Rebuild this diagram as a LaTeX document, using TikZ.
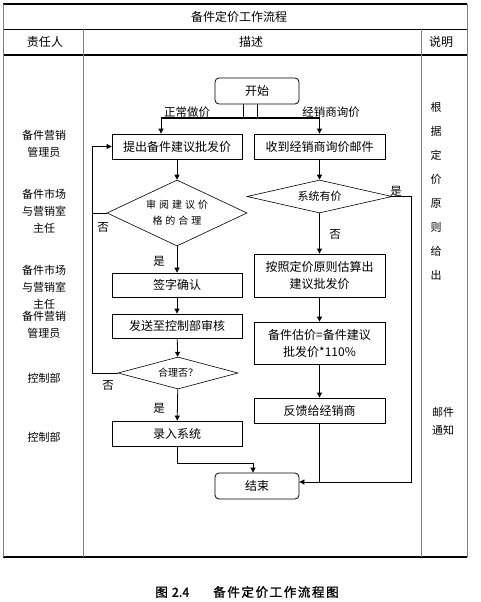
\documentclass[tikz,border=0pt]{standalone}
\usepackage{fontspec}
\setmainfont{Noto Sans CJK SC}
\newfontfamily\capfont[FakeBold=1.5]{Noto Sans CJK SC}
\usepackage{tikz}
\usetikzlibrary{arrows.meta,positioning,shapes.geometric}
\definecolor{framegray}{HTML}{808080}

\begin{document}
\begin{tikzpicture}[x=1pt, y=-1pt,
  stepbox/.style={draw, line width=0.8pt, minimum width=130pt, minimum height=25pt,
                  align=center, inner sep=2pt, font=\fontsize{12}{17}\selectfont},
  termbox/.style={draw, rounded corners=4pt, line width=0.8pt, minimum width=84pt,
                  minimum height=26pt, font=\fontsize{12}{14}\selectfont},
  check/.style={draw, diamond, line width=0.6pt, inner sep=0pt, align=center},
  arr/.style={-{Triangle[length=5pt,width=5pt]}, line width=0.8pt},
  conn/.style={line width=0.8pt},
  lbl/.style={inner sep=0pt, font=\fontsize{11.5}{13}\selectfont},
  role/.style={align=center, inner sep=0pt, font=\fontsize{11}{17}\selectfont},
  rule/.style={line width=1.2pt},
  col/.style={draw=framegray, line width=0.8pt}
]
\useasboundingbox (0,0) rectangle (481,602);

% table frame
\draw[rule] (3,4) -- (467,4);
\draw[line width=0.6pt] (3,29) -- (467,29);
\draw[rule] (3,55) -- (467,55);
\draw[rule] (3,557) -- (467,557);
\draw[col] (3,4) -- (3,557);
\draw[col] (467,4) -- (467,557);
\draw[col] (83,29) -- (83,557);
\draw[col] (421,29) -- (421,557);

\node[font=\fontsize{12}{14}\selectfont] (title) at (239,17) {备件定价工作流程};
\node[font=\fontsize{12}{14}\selectfont] (hrole) at (45,42) {责任人};
\node[font=\fontsize{12}{14}\selectfont] (hdesc) at (251,42) {描述};
\node[font=\fontsize{12}{14}\selectfont] (hnote) at (441,42) {说明};

% responsible persons
\node[role] (r1) at (44,144) {备件营销\\管理员};
\node[role] (r2) at (44,211) {备件市场\\与营销室\\主任};
\node[role] (r3) at (44,287) {备件市场\\与营销室\\主任};
\node[role] (r4) at (44,324.5) {备件营销\\管理员};
\node[role] (r5) at (44,378) {控制部};
\node[role] (r6) at (44,437) {控制部};

% notes
\node[role, font=\fontsize{11}{24}\selectfont] (n1) at (436,191.5) {根\\据\\定\\价\\原\\则\\给\\出};
\node[role, font=\fontsize{11}{18}\selectfont] (n2) at (443,421) {邮件\\通知};

% flow nodes
\node[termbox] (start) at (257,91) {开始};
\node[stepbox] (propose) at (177,146.5) {提出备件建议批发价};
\node[stepbox, minimum width=131pt] (inquiry) at (319.5,146.5) {收到经销商询价邮件};
\node[check, aspect=2.1, minimum width=140pt, minimum height=66pt,
      font=\fontsize{10}{16}\selectfont] (review) at (177,213)
      {审\hspace{3pt}阅\hspace{3pt}建\hspace{3pt}议\hspace{3pt}价\\格\hspace{3pt}的\hspace{3pt}合\hspace{3pt}理};
\node[stepbox, minimum height=24pt] (sign) at (177,285) {签字确认};
\node[stepbox, minimum height=24pt] (send) at (177,326) {发送至控制部审核};
\node[check, aspect=3.75, minimum width=120pt, minimum height=32pt,
      font=\fontsize{10}{12}\selectfont] (ok) at (178,373) {合理否？};
\node[stepbox] (enter) at (177,433.5) {录入系统};
\node[termbox] (finish) at (257,486) {结束};

\node[check, aspect=4.4, minimum width=145pt, minimum height=33pt,
      font=\fontsize{11}{13}\selectfont] (hasprice) at (319.5,196.5) {系统有价};
\node[stepbox, minimum width=131pt, minimum height=43pt] (estimate) at (319.5,275.5)
      {按照定价原则估算出\\建议批发价};
\node[stepbox, minimum width=131pt, minimum height=42pt] (calc) at (319.5,343)
      {备件估价=备件建议\\批发价*110\%};
\node[stepbox, minimum width=131pt] (feedback) at (319.5,410.5) {反馈给经销商};

% fork below start
\coordinate (fork) at (250,118);
\draw[conn] ([xshift=-14pt]start.south) -- ([xshift=-14pt]start.south |- fork);
\draw[conn] (start.south) -- (start.south |- fork);
\draw[line width=1.2pt] ([xshift=-16pt]propose.north |- fork) -- (inquiry.north |- fork);
\draw[arr] ([xshift=-16pt]propose.north |- fork) -- ([xshift=-16pt]propose.north);
\draw[arr] (inquiry.north |- fork) -- (inquiry.north);
\node[lbl] (lnormal) at (187,112) {正常做价};
\node[lbl] (lask) at (331,112) {经销商询价};

% left branch
\coordinate (loopx) at (92,0);
\draw[arr] (propose) -- (review);
\draw[arr] (review) -- (sign);
\draw[arr] (sign) -- (send);
\draw[arr] (send) -- (ok);
\draw[arr] (ok) -- (enter);
\draw[conn] (review.west) -- (loopx |- review.west);
\draw[arr] (ok.west) -- (loopx |- ok.west) -- (loopx |- propose.west) -- (propose.west);
\draw[arr] (enter.south) -- ++(0,17) -| ([xshift=-4pt]finish.north);
\node[lbl] (no1) at (103,227) {否};
\node[lbl] (yes1) at (159,261) {是};
\node[lbl] (no2) at (108,385) {否};
\node[lbl] (yes2) at (159,408) {是};

% right branch
\coordinate (endin) at ([yshift=4pt]finish.east);
\draw[arr] (inquiry) -- (hasprice);
\draw[arr] (hasprice) -- (estimate);
\draw[arr] (estimate) -- (calc);
\draw[arr] (calc) -- (feedback);
\draw[arr] (hasprice.east) -- ++(19,0) |- (endin);
\draw[conn] (feedback.south) -- (feedback.south |- endin);
\node[lbl] (yes3) at (396,191) {是};
\node[lbl] (no3) at (335,234) {否};

% caption
\node[font=\fontsize{12.5}{14}\capfont] (caption) at (247,592)
  {图\hspace{4pt}2.4\hspace{24pt}备\hspace{1.6pt}件\hspace{1.6pt}定\hspace{1.6pt}价\hspace{1.6pt}工\hspace{1.6pt}作\hspace{1.6pt}流\hspace{1.6pt}程\hspace{1.6pt}图};
\end{tikzpicture}
\end{document}
